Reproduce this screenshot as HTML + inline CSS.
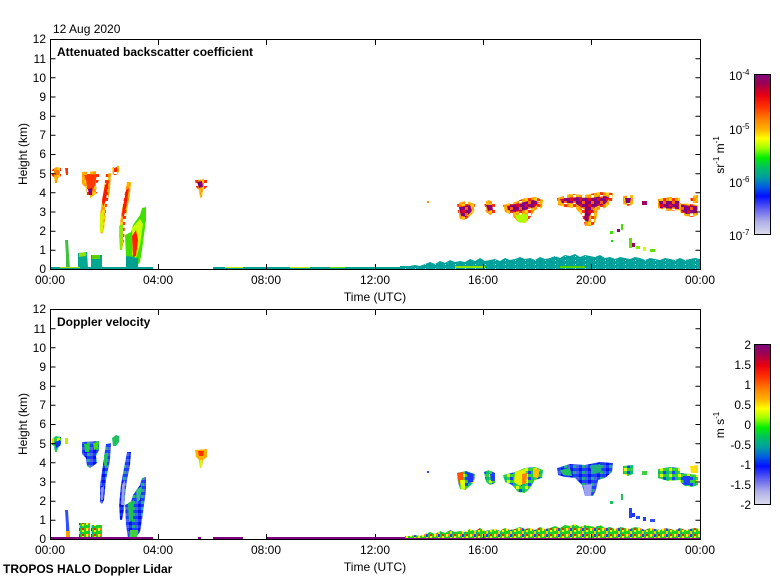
<!DOCTYPE html>
<html><head><meta charset="utf-8"><style>
html,body{margin:0;padding:0;background:#fff;}
svg{display:block;}
text{font-family:"Liberation Sans",Arial,sans-serif;fill:#000;}
</style></head><body>
<svg width="780" height="580" viewBox="0 0 780 580" xmlns="http://www.w3.org/2000/svg">
<defs>
<linearGradient id="cb" x1="0" y1="0" x2="0" y2="1">
<stop offset="0" stop-color="#7e0a7e"/>
<stop offset="0.06" stop-color="#a00050"/>
<stop offset="0.13" stop-color="#e80010"/>
<stop offset="0.2" stop-color="#ff3000"/>
<stop offset="0.28" stop-color="#ff8000"/>
<stop offset="0.34" stop-color="#ffb000"/>
<stop offset="0.4" stop-color="#ffff00"/>
<stop offset="0.46" stop-color="#a0ff00"/>
<stop offset="0.52" stop-color="#00ee00"/>
<stop offset="0.58" stop-color="#00c060"/>
<stop offset="0.64" stop-color="#00a0a0"/>
<stop offset="0.7" stop-color="#0060e0"/>
<stop offset="0.76" stop-color="#0010ff"/>
<stop offset="0.84" stop-color="#6060f0"/>
<stop offset="0.92" stop-color="#b0b0e8"/>
<stop offset="1" stop-color="#dcdcec"/>
</linearGradient>
<pattern id="spk" width="12" height="6" patternUnits="userSpaceOnUse">
<rect x="0" y="0" width="12" height="6" fill="#20d020"/>
<rect x="2" y="0" width="2" height="3" fill="#ffff00"/>
<rect x="4" y="0" width="2" height="2" fill="#ff8000"/>
<rect x="6" y="0" width="2" height="3" fill="#2040ff"/>
<rect x="6" y="3" width="2" height="3" fill="#ffd000"/>
<rect x="10" y="0" width="2" height="2" fill="#ff2000"/>
<rect x="10" y="2" width="2" height="2" fill="#ffff00"/>
<rect x="8" y="4" width="2" height="2" fill="#00b0a0"/>
</pattern>
<pattern id="aer" width="10" height="4" patternUnits="userSpaceOnUse">
<rect x="0" y="0" width="10" height="4" fill="#00a09a"/>
<rect x="3" y="0" width="1" height="2" fill="#00b878"/>
<rect x="7" y="2" width="2" height="2" fill="#10a8a0"/>
<rect x="5" y="0" width="1" height="1" fill="#ffffff"/>
</pattern>
<pattern id="bse" width="9" height="6" patternUnits="userSpaceOnUse">
<rect x="0" y="0" width="9" height="6" fill="#ff9a00"/>
<rect x="3" y="0" width="3" height="3" fill="#ffd000"/>
<rect x="6" y="0" width="3" height="3" fill="#ff3000"/>
<rect x="0" y="3" width="3" height="3" fill="#ffb800"/>
<rect x="6" y="3" width="3" height="3" fill="#ffffff"/>
</pattern>
<pattern id="bsc" width="9" height="6" patternUnits="userSpaceOnUse">
<rect x="0" y="0" width="9" height="6" fill="#820080"/>
<rect x="3" y="0" width="3" height="3" fill="#e80020"/>
<rect x="6" y="3" width="3" height="3" fill="#ff6000"/>
</pattern>
<pattern id="vb" width="9" height="6" patternUnits="userSpaceOnUse">
<rect x="0" y="0" width="9" height="6" fill="#1a40ff"/>
<rect x="3" y="0" width="3" height="3" fill="#0010f0"/>
<rect x="6" y="3" width="3" height="3" fill="#20b080"/>
<rect x="0" y="3" width="3" height="3" fill="#5060f0"/>
</pattern>
<pattern id="vg" width="9" height="6" patternUnits="userSpaceOnUse">
<rect x="0" y="0" width="9" height="6" fill="#30d040"/>
<rect x="3" y="0" width="3" height="3" fill="#e0ff00"/>
<rect x="6" y="3" width="3" height="3" fill="#2040ff"/>
<rect x="0" y="3" width="3" height="3" fill="#00c070"/>
</pattern>
</defs>

<!-- ===================== TOP PANEL DATA ===================== -->
<g>
<polygon points="52,170 56,167 61,168 61,176 58,178 57,183 55,183 54,177 52,176" fill="url(#bse)"/>
<polygon points="54,171 59,170 59,175 55,175" fill="#ff7000"/>
<polygon points="65,168 68,168 68,175 66,175" fill="#ff3000"/>
<polygon points="82,172 99,171 99,180 96,186 97,193 93,196 90,198 87,196 86,188 82,184" fill="url(#bse)"/>
<polygon points="84,175 97,174 95,185 92,192 88,190 86,180" fill="#ff3800"/>
<polygon points="88,189 92,188 92,195 89,195" fill="#800080"/>
<polygon points="106,174 111,173 110,190 106,210 104,230 102,234 100,232 100,215 103,195" fill="url(#bse)"/>
<polygon points="105,185 109,180 106,200 103,207 102,200" fill="#ff1800"/>
<polygon points="100,214 104,210 103,232 100,232" fill="#d8f000"/>
<polygon points="112,168 116,165 119,166 119,172 116,175 113,175" fill="url(#bse)"/>
<polygon points="114,168 117,167 117,172 114,172" fill="#ff2000"/>
<polygon points="127,182 131,182 130,195 127,210 125,225 124,240 122,250 120,250 119,235 121,215 124,198" fill="url(#bse)"/>
<polygon points="126,190 129,188 126,208 123,220 122,213" fill="#ff1800"/>
<polygon points="119,226 123,224 122,250 120,250" fill="#80f000"/>
<polygon points="125,235 131,232 133,225 140,215 142,208 146,207 146,220 144,235 142,250 140,262 135,268 128,268 126,255" fill="#40e000"/>
<polygon points="132,228 140,219 143,224 140,245 136,258 132,255" fill="#c8ff00"/>
<polygon points="132,236 136,230 138,240 136,256 133,257" fill="#ff2000"/>
<polygon points="126,256 138,258 138,268 126,268" fill="#00a090"/>
<polygon points="65,240 68,240 69,255 70,268 66,268 66,255" fill="#40c040"/>
<polygon points="78,253 87,252 88,268 78,268" fill="#00a890"/>
<polygon points="79,253 86,252 86,256 79,257" fill="#90e000"/>
<polygon points="91,255 102,255 102,268 91,268" fill="#00a890"/>
<polygon points="92,255 100,255 100,259 92,259" fill="#60d000"/>
<polygon points="195,180 207,179 207,187 203,190 202,197 200,198 199,190 196,187" fill="url(#bse)"/>
<polygon points="197,182 202,181 203,187 199,188" fill="#800080"/>
<rect x="50" y="267" width="103" height="2" fill="#00a090"/>
<rect x="60" y="267" width="20" height="1" fill="#a0e000"/>
<rect x="213" y="267" width="187" height="2" fill="#00a090"/>
<rect x="225" y="267" width="18" height="1" fill="#c0f000"/>
<rect x="290" y="267" width="20" height="1" fill="#c0f000"/>
<rect x="330" y="267" width="15" height="1" fill="#60e000"/>
<polygon points="400,269 400,266 410,266 415,265 420,266 425,264 430,262 435,264 440,261 445,263 450,260 455,262 460,261 465,262 470,259 475,261 480,258 485,261 490,260 495,259 500,261 505,258 510,260 515,259 520,257 525,259 530,258 535,260 540,257 545,259 550,258 555,256 560,258 565,255 570,256 575,254 580,257 585,255 590,256 595,257 600,255 605,258 610,257 615,259 620,257 625,258 630,259 635,257 640,258 645,260 650,258 655,259 660,260 665,258 670,259 675,260 680,258 685,260 690,259 695,258 700,259 700,269" fill="url(#aer)"/>
<rect x="455" y="266" width="30" height="2" fill="#90e000"/>
<rect x="560" y="266" width="25" height="2" fill="#50d000"/>
<polygon points="457,203 466,201 475,204 474,212 470,216 465,220 460,219 458,212" fill="url(#bse)"/>
<polygon points="459,207 470,205 472,211 466,217 461,216" fill="url(#bsc)"/>
<polygon points="484,202 489,200 495,203 495,213 490,215 486,212" fill="url(#bse)"/>
<polygon points="486,205 492,205 493,210 488,211" fill="#900070"/>
<polygon points="503,205 515,202 525,198 535,197 543,200 542,208 535,210 530,218 525,223 518,222 512,215 505,212" fill="url(#bse)"/>
<polygon points="507,206 520,203 533,200 540,202 535,207 525,210 515,212 508,210" fill="url(#bsc)"/>
<polygon points="515,215 528,214 526,223 518,222" fill="#b0ff00"/>
<polygon points="557,198 570,194 585,195 600,192 613,193 612,202 605,208 598,210 596,220 593,226 585,226 582,215 575,208 565,207 558,205" fill="url(#bse)"/>
<polygon points="560,199 575,197 590,198 605,196 610,198 605,204 595,207 590,215 588,222 584,220 585,210 575,203 562,203" fill="url(#bsc)"/>
<polygon points="623,196 633,195 633,204 628,206 623,204" fill="url(#bse)"/>
<polygon points="625,198 631,198 630,203 626,203" fill="#800080"/>
<rect x="642" y="201" width="5" height="4" fill="#a00060"/>
<polygon points="658,199 670,197 680,198 680,210 668,211 658,208" fill="url(#bse)"/>
<polygon points="659,201 679,201 679,209 660,208" fill="url(#bsc)"/>
<polygon points="680,203 690,204 698,205 698,215 692,217 685,216 680,212" fill="url(#bse)"/>
<polygon points="681,205 697,206 697,213 686,214 681,210" fill="url(#bsc)"/>
<polygon points="690,196 698,195 698,203 691,203" fill="url(#bse)"/>
<rect x="610" y="231" width="3" height="3" fill="#40e000"/>
<rect x="621" y="224" width="2" height="6" fill="#40e000"/>
<rect x="617" y="229" width="3" height="3" fill="#900070"/>
<rect x="629" y="238" width="3" height="10" fill="#60e000"/>
<rect x="632" y="243" width="3" height="4" fill="#a00060"/>
<rect x="636" y="246" width="4" height="3" fill="#80f000"/>
<rect x="643" y="247" width="3" height="4" fill="#d0ff00"/>
<rect x="650" y="249" width="5" height="3" fill="#60e000"/>
<rect x="611" y="240" width="2" height="2" fill="#00e000"/>
<rect x="427" y="201" width="2" height="2" fill="#ff9000"/>
</g>

<!-- ===================== BOTTOM PANEL DATA ===================== -->
<g>
<polygon points="52,439 56,436 61,437 61,445 58,448 57,452 55,452 54,446 52,445" fill="url(#vg)"/>
<polygon points="55,442 60,440 60,446 56,448" fill="#1030ff"/>
<polygon points="52,439 54,438 54,443 52,443" fill="#ffd000"/>
<rect x="65" y="438" width="3" height="6" fill="#c0f000"/>
<polygon points="82,442 99,441 99,450 96,456 97,463 93,466 90,468 87,466 86,458 82,454" fill="url(#vb)"/>
<polygon points="84,444 90,443 89,452 85,452" fill="#20d040"/>
<polygon points="93,443 99,442 98,448 94,450" fill="#40e000"/>
<polygon points="106,444 111,443 110,460 106,480 104,500 102,504 100,502 100,485 103,465" fill="url(#vb)"/>
<polygon points="104,455 108,452 107,465 104,466" fill="#20c060"/>
<polygon points="101,488 104,486 103,500 101,500" fill="#9090f0"/>
<polygon points="112,438 116,435 119,436 119,442 116,446 113,446" fill="#20c060"/>
<polygon points="127,452 131,452 130,465 127,480 125,495 124,510 122,520 120,520 119,505 121,485 124,468" fill="url(#vb)"/>
<polygon points="122,485 125,480 124,505 121,505" fill="#a0a0f0"/>
<polygon points="125,505 131,502 133,495 140,485 142,478 146,477 146,490 144,505 142,520 140,532 135,538 128,538 126,525" fill="url(#vb)"/>
<polygon points="128,503 134,500 133,520 129,522" fill="#20c050"/>
<polygon points="136,490 142,486 140,500 137,502" fill="#30c080"/>
<polygon points="130,530 138,530 137,538 129,538" fill="#40d040"/>
<polygon points="65,510 68,510 69,525 70,538 66,538 66,525" fill="#3050ff"/>
<rect x="66" y="531" width="4" height="7" fill="#ffa000"/>
<rect x="79" y="523" width="11" height="15" fill="url(#spk)"/>
<rect x="91" y="525" width="11" height="13" fill="url(#spk)"/>
<polygon points="195,450 207,449 207,457 203,460 202,467 200,468 199,460 196,457" fill="#ffb000"/>
<polygon points="198,451 204,451 203,456 199,456" fill="#ff3000"/>
<rect x="200" y="460" width="2" height="7" fill="#d0ff00"/>
<rect x="50" y="537" width="103" height="2" fill="#800080"/>
<rect x="198" y="537" width="3" height="2" fill="#800080"/>
<rect x="213" y="537" width="30" height="2" fill="#800080"/>
<rect x="266" y="537" width="134" height="2" fill="#800080"/>
<rect x="400" y="537" width="300" height="2" fill="#800080"/>
<polygon points="405,539 405,536 410,536 415,535 420,536 425,534 430,532 435,534 440,531 445,533 450,530 455,532 460,531 465,532 470,529 475,531 480,528 485,531 490,530 495,529 500,531 505,528 510,530 515,529 520,527 525,529 530,528 535,530 540,527 545,529 550,528 555,526 560,528 565,525 570,526 575,524 580,527 585,525 590,526 595,527 600,525 605,528 610,527 615,529 620,527 625,528 630,529 635,527 640,528 645,530 650,528 655,529 660,530 665,528 670,529 675,530 680,528 685,530 690,529 695,528 700,529 700,538 405,538" fill="url(#spk)"/>
<polygon points="457,473 466,471 475,474 474,482 470,486 465,490 460,489 458,482" fill="url(#vg)"/>
<polygon points="457,473 463,472 463,485 459,484" fill="#ff5000"/>
<polygon points="467,472 474,474 473,482 468,483" fill="#2030ff"/>
<polygon points="460,480 465,480 465,490 461,489" fill="#e0ff00"/>
<polygon points="484,472 489,470 495,473 495,483 490,485 486,482" fill="url(#vg)"/>
<polygon points="490,474 495,474 495,481 491,481" fill="#2040ff"/>
<polygon points="503,475 515,472 525,468 535,467 543,470 542,478 535,480 530,488 525,493 518,492 512,485 505,482" fill="url(#vg)"/>
<polygon points="515,472 525,469 528,480 520,486 514,482" fill="#e8f000"/>
<polygon points="522,474 527,473 526,484 522,484" fill="#ff8000"/>
<polygon points="533,468 540,470 538,478 533,477" fill="#ffc000"/>
<polygon points="557,468 570,464 585,465 600,462 613,463 612,472 605,478 598,480 596,490 593,496 585,496 582,485 575,478 565,477 558,475" fill="url(#vb)"/>
<polygon points="560,470 570,468 572,476 563,475" fill="#20c060"/>
<polygon points="590,466 600,464 602,472 592,474" fill="#20b080"/>
<polygon points="583,485 592,484 591,496 585,496" fill="#a0a0f0"/>
<polygon points="623,466 633,465 633,474 628,476 623,474" fill="url(#vg)"/>
<rect x="642" y="471" width="5" height="4" fill="#40d040"/>
<polygon points="658,469 670,467 680,468 680,480 668,481 658,478" fill="url(#vg)"/>
<polygon points="680,473 690,474 698,475 698,485 692,487 685,486 680,482" fill="url(#vg)"/>
<polygon points="690,466 698,465 698,473 691,473" fill="#ffe000"/>
<polygon points="683,476 690,476 690,485 684,485" fill="#2040ff"/>
<rect x="610" y="501" width="3" height="3" fill="#20c060"/>
<rect x="621" y="494" width="2" height="6" fill="#20c060"/>
<rect x="629" y="508" width="3" height="10" fill="#2040ff"/>
<rect x="632" y="513" width="3" height="4" fill="#2030ff"/>
<rect x="636" y="516" width="4" height="3" fill="#2050ff"/>
<rect x="643" y="517" width="3" height="4" fill="#2040ff"/>
<rect x="650" y="519" width="5" height="3" fill="#3050ff"/>
<rect x="427" y="471" width="2" height="2" fill="#2040ff"/>
</g>

<!-- ===================== AXES ===================== -->
<g fill="none" stroke="#000" stroke-width="1">
<rect x="50.5" y="39.5" width="650" height="230"/>
<rect x="50.5" y="309.5" width="650" height="230"/>
<path d="M50.5,250.3h5M50.5,231.2h5M50.5,212h5M50.5,192.8h5M50.5,173.7h5M50.5,154.5h5M50.5,135.3h5M50.5,116.2h5M50.5,97h5M50.5,77.8h5M50.5,58.7h5
M700.5,250.3h-5M700.5,231.2h-5M700.5,212h-5M700.5,192.8h-5M700.5,173.7h-5M700.5,154.5h-5M700.5,135.3h-5M700.5,116.2h-5M700.5,97h-5M700.5,77.8h-5M700.5,58.7h-5"/>
<path d="M50.5,520.3h5M50.5,501.2h5M50.5,482h5M50.5,462.8h5M50.5,443.7h5M50.5,424.5h5M50.5,405.3h5M50.5,386.2h5M50.5,367h5M50.5,347.8h5M50.5,328.7h5
M700.5,520.3h-5M700.5,501.2h-5M700.5,482h-5M700.5,462.8h-5M700.5,443.7h-5M700.5,424.5h-5M700.5,405.3h-5M700.5,386.2h-5M700.5,367h-5M700.5,347.8h-5M700.5,328.7h-5"/>
<path d="M158.5,269v-5M266.5,269v-5M375.5,269v-5M483.5,269v-5M591.5,269v-5M158.5,40v5M266.5,40v5M375.5,40v5M483.5,40v5M591.5,40v5"/>
<path d="M158.5,539v-5M266.5,539v-5M375.5,539v-5M483.5,539v-5M591.5,539v-5M158.5,310v5M266.5,310v5M375.5,310v5M483.5,310v5M591.5,310v5"/>
</g>

<g font-size="12" text-anchor="end">
<text x="46" y="273">0</text><text x="46" y="254">1</text><text x="46" y="235">2</text><text x="46" y="216">3</text><text x="46" y="197">4</text><text x="46" y="178">5</text><text x="46" y="158">6</text><text x="46" y="139">7</text><text x="46" y="120">8</text><text x="46" y="101">9</text><text x="46" y="82">10</text><text x="46" y="63">11</text><text x="46" y="43">12</text>
<text x="46" y="543">0</text><text x="46" y="524">1</text><text x="46" y="505">2</text><text x="46" y="486">3</text><text x="46" y="467">4</text><text x="46" y="448">5</text><text x="46" y="428">6</text><text x="46" y="409">7</text><text x="46" y="390">8</text><text x="46" y="371">9</text><text x="46" y="352">10</text><text x="46" y="333">11</text><text x="46" y="313">12</text>
</g>
<g font-size="12" text-anchor="middle">
<text x="50" y="284">00:00</text><text x="158" y="284">04:00</text><text x="266" y="284">08:00</text><text x="375" y="284">12:00</text><text x="483" y="284">16:00</text><text x="591" y="284">20:00</text><text x="700" y="284">00:00</text>
<text x="50" y="554">00:00</text><text x="158" y="554">04:00</text><text x="266" y="554">08:00</text><text x="375" y="554">12:00</text><text x="483" y="554">16:00</text><text x="591" y="554">20:00</text><text x="700" y="554">00:00</text>
<text x="375" y="301">Time (UTC)</text>
<text x="375" y="571">Time (UTC)</text>
</g>
<text x="27" y="154" font-size="12" text-anchor="middle" transform="rotate(-90 27 154)">Height (km)</text>
<text x="27" y="424" font-size="12" text-anchor="middle" transform="rotate(-90 27 424)">Height (km)</text>
<text x="53" y="33" font-size="12">12 Aug 2020</text>
<text x="57" y="56" font-size="12" font-weight="bold">Attenuated backscatter coefficient</text>
<text x="57" y="326" font-size="12" font-weight="bold">Doppler velocity</text>
<text x="3" y="573" font-size="12" font-weight="bold">TROPOS HALO Doppler Lidar</text>

<rect x="754.5" y="74.5" width="16" height="160" fill="url(#cb)" stroke="#000" stroke-width="1"/>
<rect x="754.5" y="344.5" width="16" height="160" fill="url(#cb)" stroke="#000" stroke-width="1"/>
<g font-size="12">
<text x="729" y="80">10<tspan font-size="8" dy="-5">-4</tspan></text>
<text x="729" y="134">10<tspan font-size="8" dy="-5">-5</tspan></text>
<text x="729" y="187">10<tspan font-size="8" dy="-5">-6</tspan></text>
<text x="729" y="240">10<tspan font-size="8" dy="-5">-7</tspan></text>
</g>
<text x="724" y="155" font-size="12" text-anchor="middle" transform="rotate(-90 724 155)">sr<tspan font-size="8" dy="-5">-1</tspan><tspan dy="5"> m</tspan><tspan font-size="8" dy="-5">-1</tspan></text>
<g font-size="12" text-anchor="end">
<text x="751" y="349">2</text><text x="751" y="369">1.5</text><text x="751" y="389">1</text><text x="751" y="409">0.5</text><text x="751" y="429">0</text><text x="751" y="449">-0.5</text><text x="751" y="469">-1</text><text x="751" y="489">-1.5</text><text x="751" y="509">-2</text>
</g>
<text x="724" y="425" font-size="12" text-anchor="middle" transform="rotate(-90 724 425)">m s<tspan font-size="8" dy="-5">-1</tspan></text>
</svg>
</body></html>
